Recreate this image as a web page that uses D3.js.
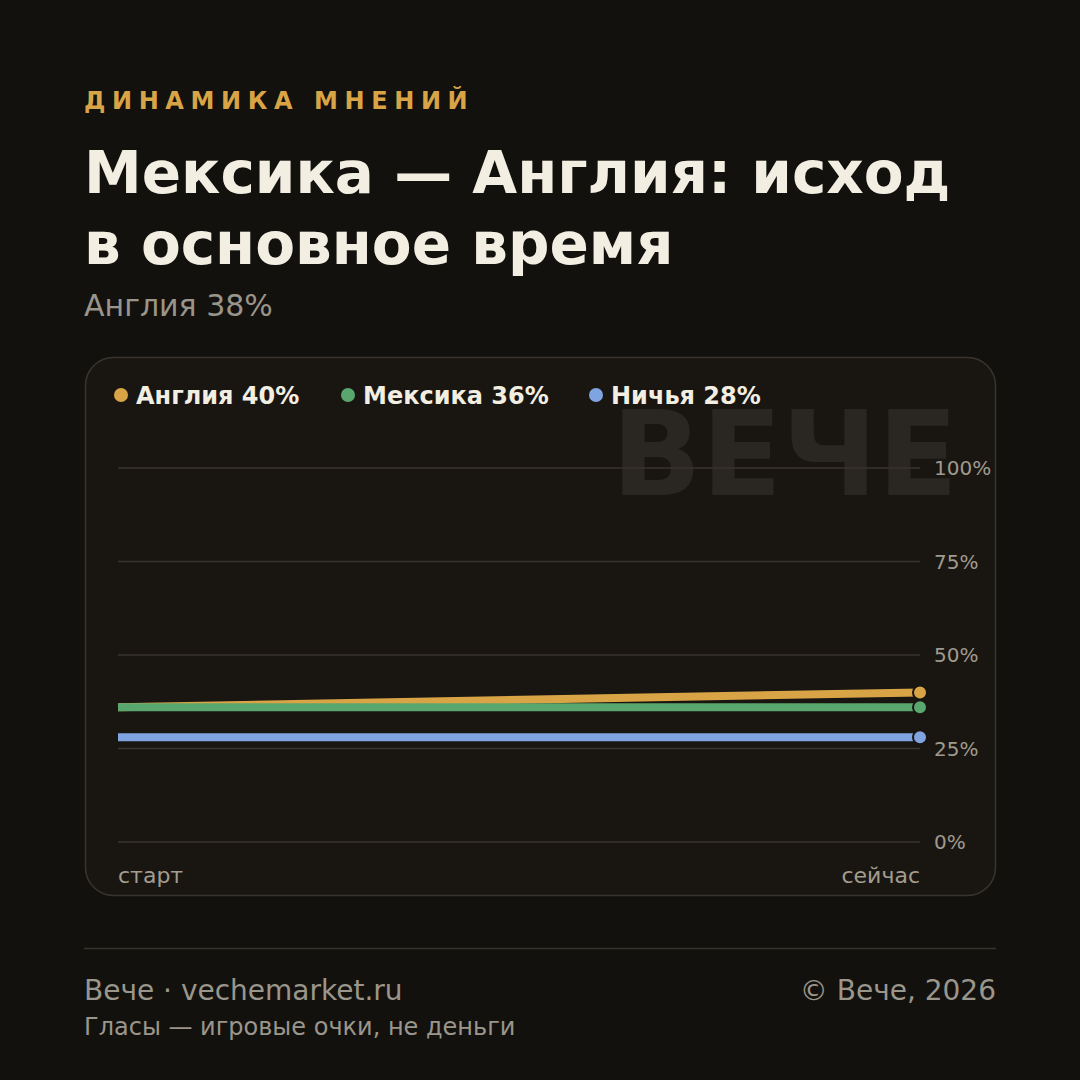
<!DOCTYPE html>
<html lang="ru">
<head>
<meta charset="UTF-8">
<title>Мексика — Англия</title>
<script src="https://d3js.org/d3.v7.min.js"></script>
<style>
  html, body { margin: 0; padding: 0; background: #12110e; }
  svg { display: block; font-family: "DejaVu Sans", sans-serif; }
</style>
</head>
<body>
<svg width="1080" height="1080"></svg>
<script>
  // data
  const steps = ["старт", "сейчас"];
  const seriesNames = ["Англия", "Мексика", "Ничья"];
  const seriesColors = ["#d9a446", "#5aa66f", "#80a4e2"];
  const englandValues = [36, 40];
  const mexicoValues = [36, 36];
  const drawValues = [28, 28];
  const yTicks = [0, 25, 50, 75, 100];

  const series = seriesNames.map((name, i) => ({
    name,
    color: seriesColors[i],
    values: [englandValues, mexicoValues, drawValues][i]
  }));

  const svg = d3.select("svg");

  // header
  svg.append("text")
    .attr("x", 84).attr("y", 109)
    .attr("fill", "#d9a446")
    .attr("font-size", 24).attr("font-weight", "bold")
    .attr("letter-spacing", 6.6)
    .text("ДИНАМИКА МНЕНИЙ");

  const title = svg.append("text")
    .attr("fill", "#f3eee2")
    .attr("font-size", 58).attr("font-weight", "bold");
  title.append("tspan").attr("x", 84).attr("y", 193).text("Мексика — Англия: исход");
  title.append("tspan").attr("x", 84).attr("y", 264).text("в основное время");

  svg.append("text")
    .attr("x", 84).attr("y", 316)
    .attr("fill", "#9a958a")
    .attr("font-size", 30)
    .text("Англия 38%");

  // card
  svg.append("rect")
    .attr("x", 85.5).attr("y", 357.5)
    .attr("width", 910).attr("height", 538)
    .attr("rx", 28)
    .attr("fill", "#191612")
    .attr("stroke", "#39352e").attr("stroke-width", 1.5);

  // watermark
  svg.append("text")
    .attr("x", 958).attr("y", 495)
    .attr("text-anchor", "end")
    .attr("fill", "#2a2722")
    .attr("font-size", 118).attr("font-weight", "bold")
    .text("ВЕЧЕ");

  // scales
  const x = d3.scalePoint().domain(steps).range([118, 920]);
  const y = d3.scaleLinear().domain([0, 100]).range([842, 468]);

  // grid + y labels
  const grid = svg.append("g");
  grid.selectAll("line").data(yTicks).join("line")
    .attr("x1", 118).attr("x2", 920)
    .attr("y1", d => y(d)).attr("y2", d => y(d))
    .attr("stroke", "#38342d").attr("stroke-width", 1.5);
  grid.selectAll("text").data(yTicks).join("text")
    .attr("x", 934).attr("y", d => y(d))
    .attr("dy", "0.35em")
    .attr("fill", "#a09a8e")
    .attr("font-size", 20)
    .text(d => d + "%");

  // x labels
  svg.selectAll(".xl").data(steps).join("text")
    .attr("class", "xl")
    .attr("x", d => x(d)).attr("y", 883)
    .attr("text-anchor", (d, i) => i === 0 ? "start" : "end")
    .attr("fill", "#a39d90")
    .attr("font-size", 22)
    .text(d => d);

  // lines (draw order: England, Mexico, Draw)
  const line = d3.line()
    .x((d, i) => x(steps[i]))
    .y(d => y(d));

  svg.selectAll(".series").data(series).join("path")
    .attr("class", "series")
    .attr("d", d => line(d.values))
    .attr("fill", "none")
    .attr("stroke", d => d.color)
    .attr("stroke-width", 8);

  svg.selectAll(".end").data(series).join("circle")
    .attr("class", "end")
    .attr("cx", x(steps[steps.length - 1]))
    .attr("cy", d => y(d.values[d.values.length - 1]))
    .attr("r", 7)
    .attr("fill", d => d.color)
    .attr("stroke", "#191612").attr("stroke-width", 2);

  // legend
  const legendX = [121, 348, 596];
  const legend = svg.selectAll(".lg").data(series).join("g")
    .attr("class", "lg")
    .attr("transform", (d, i) => `translate(${legendX[i]},395)`);
  legend.append("circle").attr("r", 7).attr("fill", d => d.color);
  legend.append("text")
    .attr("x", 15).attr("y", 8.5)
    .attr("fill", "#f3eee2")
    .attr("font-size", 24).attr("font-weight", "bold")
    .text(d => `${d.name} ${d.values[d.values.length - 1]}%`);

  // footer
  svg.append("line")
    .attr("x1", 84).attr("x2", 996).attr("y1", 948.5).attr("y2", 948.5)
    .attr("stroke", "#38342d").attr("stroke-width", 1.5);
  svg.append("text")
    .attr("x", 84).attr("y", 1000)
    .attr("fill", "#9b968b").attr("font-size", 28)
    .text("Вече · vechemarket.ru");
  svg.append("text")
    .attr("x", 996).attr("y", 1000)
    .attr("text-anchor", "end")
    .attr("fill", "#9b968b").attr("font-size", 28)
    .text("© Вече, 2026");
  svg.append("text")
    .attr("x", 84).attr("y", 1035)
    .attr("fill", "#9b968b").attr("font-size", 24)
    .text("Гласы — игровые очки, не деньги");
</script>
</body>
</html>
